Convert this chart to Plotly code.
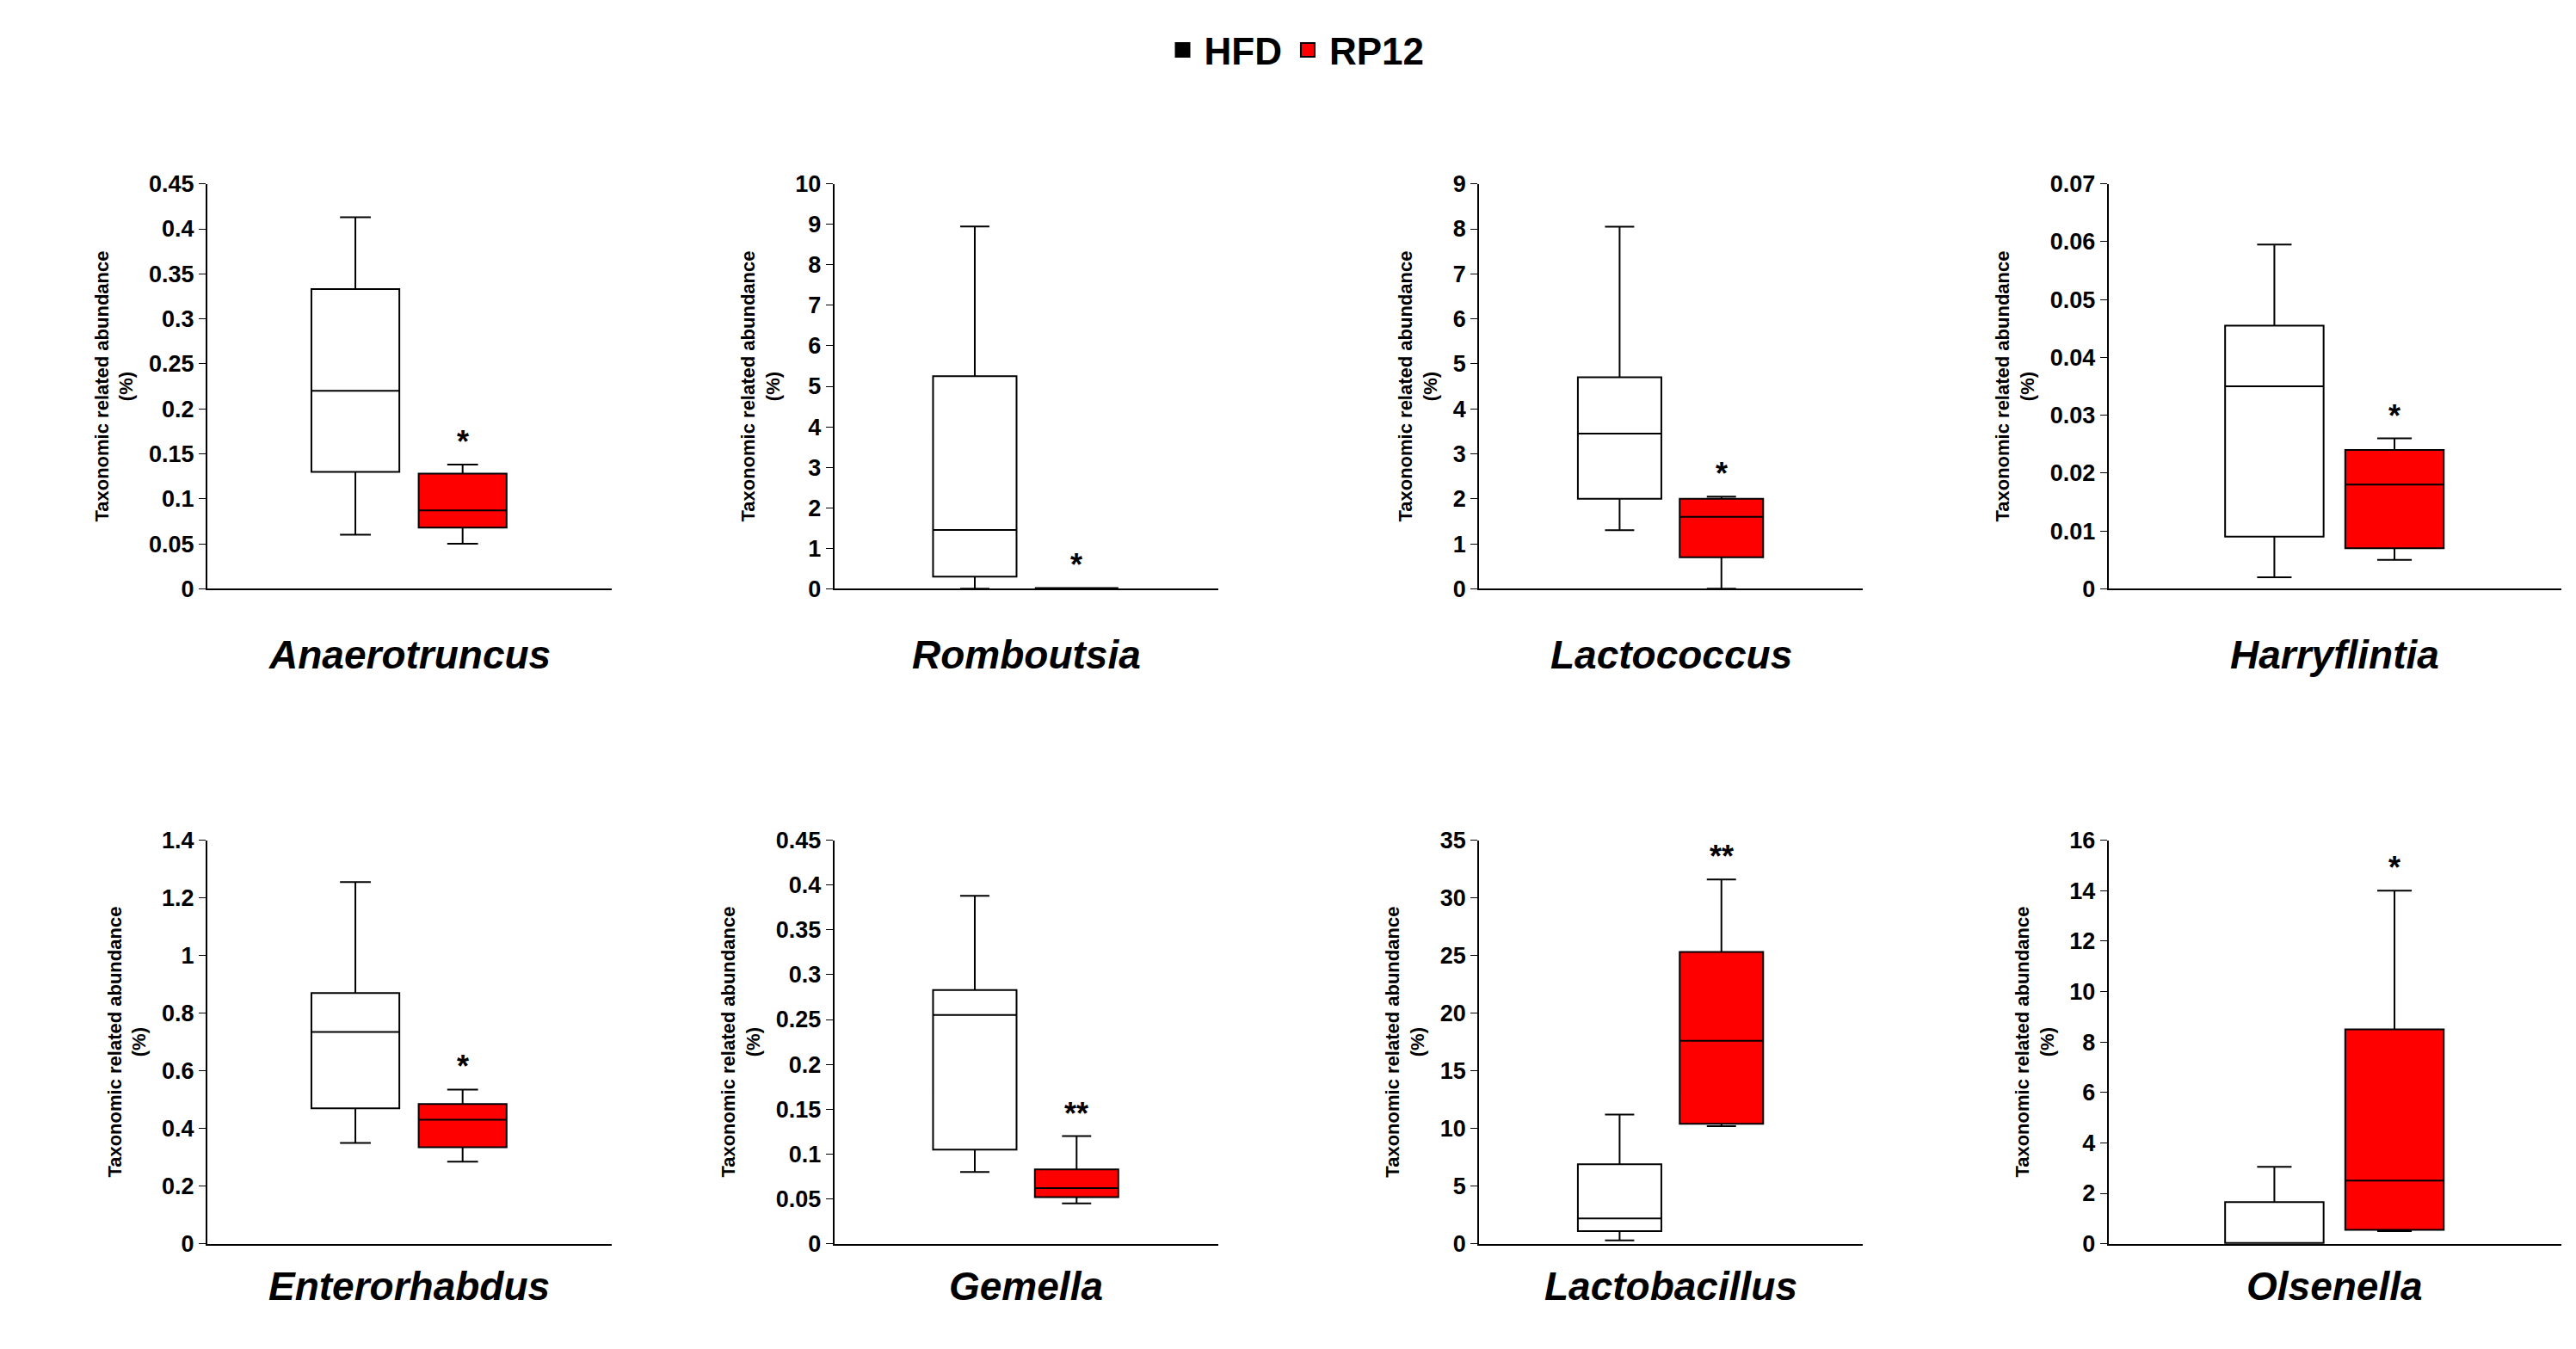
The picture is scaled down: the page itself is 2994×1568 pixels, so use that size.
import plotly.graph_objects as go

genera = ['Anaerotruncus', 'Romboutsia', 'Lactococcus', 'Harryflintia',
          'Enterorhabdus', 'Gemella', 'Lactobacillus', 'Olsenella']
# min, q1, median, q3, max
hfd = [[0.06, 0.13, 0.22, 0.333, 0.413],
       [0.0, 0.3, 1.45, 5.25, 8.95],
       [1.3, 2.0, 3.45, 4.7, 8.05],
       [0.002, 0.009, 0.035, 0.0455, 0.0595],
       [0.35, 0.47, 0.735, 0.87, 1.255],
       [0.08, 0.105, 0.255, 0.283, 0.388],
       [0.3, 1.1, 2.2, 6.9, 11.2],
       [0.0, 0.0, 0.0, 1.65, 3.05]]
rp12 = [[0.05, 0.068, 0.087, 0.128, 0.138],
        [0.02, 0.02, 0.02, 0.02, 0.02],
        [0.0, 0.7, 1.6, 2.0, 2.05],
        [0.005, 0.007, 0.018, 0.024, 0.026],
        [0.285, 0.335, 0.43, 0.485, 0.535],
        [0.045, 0.052, 0.062, 0.083, 0.12],
        [10.2, 10.4, 17.6, 25.3, 31.6],
        [0.5, 0.55, 2.5, 8.5, 14.0]]
stars = ['*', '*', '*', '*', '*', '**', '**', '*']
ymax = [0.45, 10, 9, 0.07, 1.4, 0.45, 35, 16]
ystep = [0.05, 1, 1, 0.01, 0.2, 0.05, 5, 2]

xdom = [[0.075, 0.233], [0.32, 0.47], [0.572, 0.722], [0.818, 0.995]]
ydom = [[0.57, 0.876], [0.075, 0.38]]

fig = go.Figure()
for i, g in enumerate(genera):
    r, c = divmod(i, 4)
    n = '' if i == 0 else str(i + 1)
    for x, s, fill in [(0, hfd[i], 'white'), (1, rp12[i], 'red')]:
        fig.add_trace(go.Box(
            x=[x], lowerfence=[s[0]], q1=[s[1]], median=[s[2]], q3=[s[3]],
            upperfence=[s[4]], fillcolor=fill, line=dict(color='black', width=2),
            width=0.82, whiskerwidth=0.35, showlegend=False, hoverinfo='skip',
            xaxis='x' + n, yaxis='y' + n))
    fig.update_layout(**{
        'xaxis' + n: dict(domain=xdom[c], range=[-1.38, 2.39], showticklabels=False,
                          showgrid=False, zeroline=False, showline=True,
                          linecolor='black', linewidth=2, anchor='y' + n),
        'yaxis' + n: dict(domain=ydom[r], range=[0, ymax[i]], dtick=ystep[i],
                          showgrid=False, zeroline=False, showline=True,
                          linecolor='black', linewidth=2, ticks='outside',
                          ticklen=8, tickcolor='black', anchor='x' + n,
                          tickprefix='<b>', ticksuffix='</b>',
                          tickfont=dict(size=27, color='black', family='Arial'),
                          title=dict(text='<b>Taxonomic related abundance<br>(%)</b>',
                                     font=dict(size=22, color='black', family='Arial'),
                                     standoff=12)),
    })
    fig.add_annotation(x=1, y=rp12[i][4], xref='x' + n, yref='y' + n,
                       text='<b>' + stars[i] + '</b>', showarrow=False,
                       yanchor='bottom', yshift=4,
                       font=dict(size=36, color='black', family='Arial'))
    fig.add_annotation(x=(xdom[c][0] + xdom[c][1]) / 2, y=ydom[r][0] - 0.05,
                       xref='paper', yref='paper', xanchor='center',
                       text='<b><i>' + g + '</i></b>',
                       showarrow=False, font=dict(size=46, color='black', family='Arial'))

for name, col in [('HFD', 'black'), ('RP12', 'red')]:
    fig.add_trace(go.Scatter(x=[None], y=[None], mode='markers', name='<b>' + name + '</b>',
                             marker=dict(symbol='square', size=40, color=col,
                                         line=dict(color='black', width=2))))

fig.update_layout(
    width=2994, height=1568, plot_bgcolor='white', paper_bgcolor='white',
    margin=dict(l=10, r=10, t=0, b=0), boxmode='overlay',
    legend=dict(orientation='h', x=0.5, xanchor='center', y=1.0, yanchor='top',
                font=dict(size=44, color='black', family='Arial'), itemwidth=40),
)
fig.write_html('out.html')
